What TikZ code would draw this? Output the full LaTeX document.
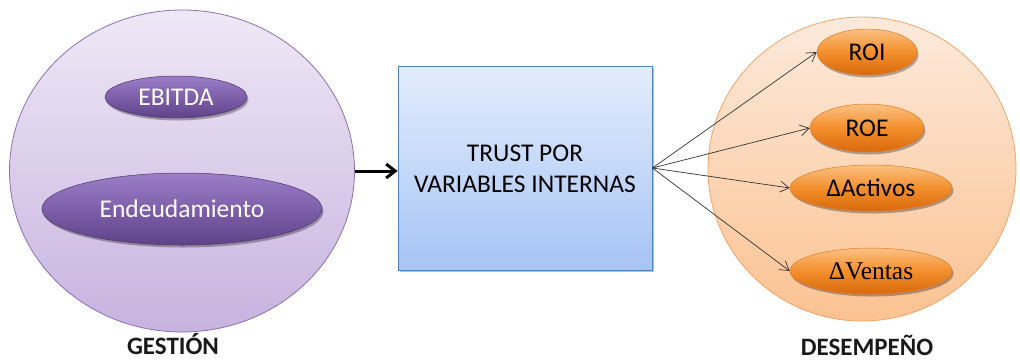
\documentclass[tikz,border=0pt]{standalone}
\usepackage{fontspec}
\setmainfont{Carlito}
\newfontfamily\serifv{Liberation Serif}
\usetikzlibrary{shapes.geometric,arrows.meta,shadows}
\definecolor{cirA}{HTML}{EFE8F6}
\definecolor{cirB}{HTML}{C7B3DF}
\definecolor{cirL}{HTML}{8A70B0}
\definecolor{purA}{HTML}{9C7EC8}
\definecolor{purM}{HTML}{7E5FAA}
\definecolor{purB}{HTML}{5E4387}
\definecolor{boxA}{HTML}{E3EDFD}
\definecolor{boxB}{HTML}{A6C4F5}
\definecolor{boxL}{HTML}{4F81BD}
\definecolor{orcA}{HTML}{FDEADC}
\definecolor{orcB}{HTML}{FBC291}
\definecolor{orcL}{HTML}{F2A465}
\definecolor{orA}{HTML}{FBC183}
\definecolor{orM}{HTML}{F38F2C}
\definecolor{orB}{HTML}{D9680C}
\definecolor{orL}{HTML}{E07A20}
\tikzset{
  bigcirc/.style={ellipse, draw, line width=0.8pt, inner sep=0pt, shading=axis, shading angle=0},
  puroval/.style={ellipse, draw=purB!80!black, line width=0.5pt, inner sep=0pt,
    top color=purA, bottom color=purB, middle color=purM,
    drop shadow={shadow xshift=1.5pt, shadow yshift=-2.5pt, opacity=0.3, fill=black}},
  oroval/.style={ellipse, draw=orL, line width=0.5pt, inner sep=0pt,
    top color=orA, bottom color=orB, middle color=orM,
    drop shadow={shadow xshift=1.5pt, shadow yshift=-2.5pt, opacity=0.3, fill=black}},
  wtxt/.style={text=white, font=\fontsize{25.5}{30}\selectfont},
  btxt/.style={text=black, font=\fontsize{25.5}{31}\selectfont},
  ttl/.style={text=black!90, inner sep=1pt, font=\fontsize{25}{30}\selectfont\bfseries},
  thinarr/.style={draw=black!80, line width=0.7pt, -{Straight Barb[length=9pt,width=11pt]}},
}
\begin{document}
\begin{tikzpicture}[x=1pt,y=-1pt]
\useasboundingbox (0,0) rectangle (1020,360);
% left circle
\node[bigcirc, draw=cirL, top color=cirA, bottom color=cirB, minimum width=345pt, minimum height=322pt] (gestion) at (182,171) {};
\node[puroval, minimum width=142pt, minimum height=42pt] (ebitda) at (176,97) {};
\node[wtxt] (ebitdaT) at (ebitda) {EBITDA};
\node[puroval, minimum width=280pt, minimum height=72pt] (endeu) at (182,209) {};
\node[wtxt] (endeuT) at (endeu) {Endeudamiento};
\node[ttl] (gestionT) at (173,344) {GESTIÓN};
% box
\node[draw=boxL, line width=0.8pt, top color=boxA, bottom color=boxB, minimum width=254pt, minimum height=204pt, inner sep=0pt,
  drop shadow={shadow xshift=1.5pt, shadow yshift=-2pt, opacity=0.25, fill=black}] (box) at (525,168) {};
\node[btxt, align=center] (boxT) at (525,169) {TRUST POR\\VARIABLES INTERNAS};
% right circle
\node[bigcirc, draw=orcL, top color=orcA, bottom color=orcB, minimum width=308pt, minimum height=304pt] (desemp) at (862,169) {};
\node[oroval, minimum width=100pt, minimum height=46pt] (roi) at (867,52) {};
\node[btxt] (roiT) at (roi) {ROI};
\node[oroval, minimum width=114pt, minimum height=48pt] (roe) at (867,128) {};
\node[btxt] (roeT) at (roe) {ROE};
\node[oroval, minimum width=162pt, minimum height=46pt] (act) at (871,188) {};
\node[btxt] (actT) at (act) {ΔActivos};
\node[oroval, minimum width=162pt, minimum height=46pt] (ven) at (871,271) {};
\node[btxt] (venT) at (ven) {\serifv ΔVentas};
\node[ttl] (desempT) at (867,345) {DESEMPEÑO};
% connectors
\draw[line width=3pt, -{Straight Barb[length=9pt,width=14pt]}] (gestion.east) -- (gestion.east -| box.west);
\draw[thinarr] (box.east) -- (roi.west);
\draw[thinarr] (box.east) -- (roe.west);
\draw[thinarr] (box.east) -- (act.west);
\draw[thinarr] (box.east) -- (ven.west);
\end{tikzpicture}
\end{document}
